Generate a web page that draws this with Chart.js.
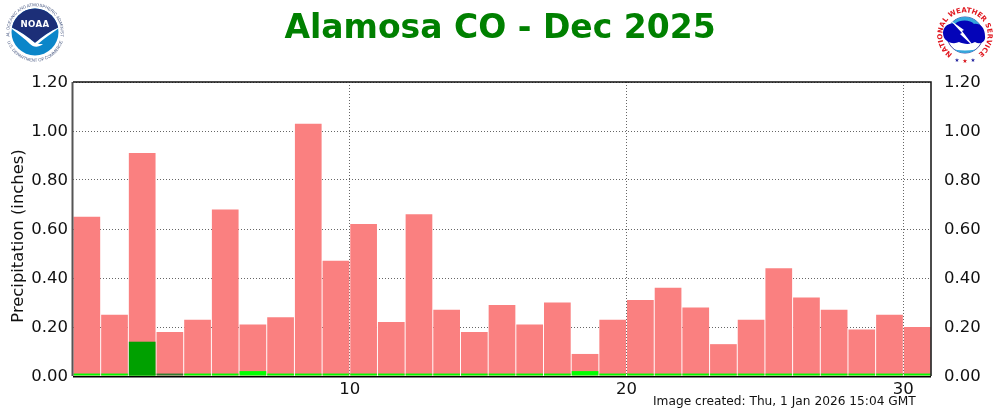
<!DOCTYPE html>
<html>
<head>
<meta charset="utf-8">
<title>Alamosa CO - Dec 2025</title>
<script src="https://cdn.jsdelivr.net/npm/chart.js@4"></script>
<style>
  html, body { margin: 0; padding: 0; background: #fff; }
  #wrap { position: relative; width: 1000px; height: 412px; overflow: hidden; }
  #created { position: absolute; left: 653px; top: 394px; font: 12.2px "DejaVu Sans", sans-serif; color: #111; white-space: nowrap; }
  .logo { position: absolute; top: 0; }
</style>
</head>
<body>
<div id="wrap">
  <canvas id="chart" width="1000" height="412"></canvas>
  <div id="created">Image created: Thu, 1 Jan 2026 15:04 GMT</div>

  <svg class="logo" style="left:0" width="70" height="70" viewBox="0 0 70 70">
    <defs>
      <path id="noaaTop" d="M 9.5 36 A 25.8 25.8 0 1 1 60.5 36"/>
      <path id="noaaBot" d="M 6.5 38 A 29 29 0 0 0 63.5 38"/>
      <clipPath id="noaaClip"><circle cx="35" cy="32" r="23.5"/></clipPath>
    </defs>
    <circle cx="35" cy="32" r="23.5" fill="#0b86c9"/>
    <g clip-path="url(#noaaClip)">
      <path d="M8 5 H62 V26 C52 30 43 36 35 43 C27 36 18 30 8 26 Z" fill="#1c2f78"/>
      <path d="M8 26 C18 30 27 36 35 43 C43 36 52 30 62 26 C52 33 44 39 38 44 L43 44 C38 48 33 47 30 44 C24 38 16 32 8 26 Z" fill="#fff"/>
    </g>
    <text x="35" y="27" text-anchor="middle" font-family="DejaVu Sans" font-weight="bold" font-size="8.6" letter-spacing="0.4" fill="#fff">NOAA</text>
    <text font-family="Liberation Sans" font-size="4.3" fill="#44557f"><textPath href="#noaaTop" startOffset="50%" text-anchor="middle">NATIONAL OCEANIC AND ATMOSPHERIC ADMINISTRATION</textPath></text>
    <text font-family="Liberation Sans" font-size="4.3" fill="#44557f"><textPath href="#noaaBot" startOffset="50%" text-anchor="middle">U.S. DEPARTMENT OF COMMERCE</textPath></text>
  </svg>

  <svg class="logo" style="left:930px" width="70" height="70" viewBox="0 0 70 70">
    <defs>
      <path id="nwsRing" d="M 22.5 54 A 22.7 22.7 0 1 1 47.5 54"/>
      <clipPath id="nwsClip"><circle cx="35" cy="35" r="18"/></clipPath>
    </defs>
    <circle cx="35" cy="35" r="18" fill="#fff" stroke="#1a1a8a" stroke-width="0.8"/>
    <g clip-path="url(#nwsClip)">
      <rect x="14" y="15" width="42" height="14" fill="#35a7dc"/>
      <path d="M14 46 C24 52 46 52 56 46 V56 H14 Z" fill="#35a7dc"/>
    </g>
    <path d="M13 33 C13 26 20 22 25 24 C30 19 41 20 44 24 C50 23 55 28 55 36 C56 42 50 45 45 42 C40 45 33 44 29 42 C23 45 13 42 13 33 Z" fill="#0404b8"/>
    <path d="M20 20 L34 30 L32 31 L45 48 L30 34 L32 33 Z" fill="#fff"/>
    <text font-family="DejaVu Sans" font-weight="bold" font-size="7" fill="#e01820" textLength="115"><textPath href="#nwsRing">NATIONAL WEATHER SERVICE</textPath></text>
    <text x="27" y="62" text-anchor="middle" font-family="DejaVu Sans" font-size="5.5" fill="#1a1a9a">★</text>
    <text x="35" y="62.5" text-anchor="middle" font-family="DejaVu Sans" font-size="6" fill="#d8141c">★</text>
    <text x="43" y="62" text-anchor="middle" font-family="DejaVu Sans" font-size="5.5" fill="#1a1a9a">★</text>
  </svg>
</div>

<script>
const days = [1,2,3,4,5,6,7,8,9,10,11,12,13,14,15,16,17,18,19,20,21,22,23,24,25,26,27,28,29,30,31];
const maxPrecip = [0.65,0.25,0.91,0.18,0.23,0.68,0.21,0.24,1.03,0.47,0.62,0.22,0.66,0.27,0.18,0.29,0.21,0.30,0.09,0.23,0.31,0.36,0.28,0.13,0.23,0.44,0.32,0.27,0.19,0.25,0.20];
const normalPrecip = [0.01,0.01,0.01,0,0.01,0.01,0.02,0.01,0.01,0.01,0.01,0.01,0.01,0.01,0.01,0.01,0.01,0.01,0.02,0.01,0.01,0.01,0.01,0.01,0.01,0.01,0.01,0.01,0.01,0.01,0.01];
const observed = [0,0,0.14,0,0,0,0,0,0,0,0,0,0,0,0,0,0,0,0,0,0,0,0,0,0,0,0,0,0,0,0];
const trace = [0,0,0,0.01,0,0,0,0,0,0,0,0,0,0,0,0,0,0,0,0,0,0,0,0,0,0,0,0,0,0,0];
const yTicks = [0,0.2,0.4,0.6,0.8,1.0,1.2];
const xTicks = [10,20,30];
const yLabel = "Precipitation (inches)";

function toPoints(values) {
  return days.map((d, i) => ({ x: d - 0.5, y: values[i] }));
}

function barSet(values, color, order) {
  return {
    data: toPoints(values),
    backgroundColor: color,
    order: order,
    grouped: false,
    barPercentage: 0.965,
    categoryPercentage: 1
  };
}

const frame = {
  id: "frame",
  afterDatasetsDraw(chart) {
    const a = chart.chartArea;
    const c = chart.ctx;
    c.save();
    c.lineWidth = 1.5;
    c.strokeStyle = "#111";
    c.beginPath();
    c.moveTo(a.left, a.top);
    c.lineTo(a.right, a.top);
    c.lineTo(a.right, a.bottom);
    c.stroke();
    c.strokeStyle = "#555";
    c.lineWidth = 2;
    c.beginPath();
    c.moveTo(a.left - 0.5, a.top);
    c.lineTo(a.left - 0.5, a.bottom);
    c.stroke();
    c.strokeStyle = "#000";
    c.lineWidth = 1.5;
    c.beginPath();
    c.moveTo(a.left, a.bottom + 0.75);
    c.lineTo(a.right, a.bottom + 0.75);
    c.stroke();

    // axis label sits lower than the plot centre in the source, so it is placed by hand
    c.translate(23, 236);
    c.rotate(-Math.PI / 2);
    c.fillStyle = "#111";
    c.font = '16.4px "DejaVu Sans"';
    c.textAlign = "center";
    c.fillText(yLabel, 0, 0);
    c.restore();
  }
};

const tickFont = { family: "DejaVu Sans", size: 16.5 };
const grid = { color: "#666", lineWidth: 1, drawTicks: false, offset: false };
const border = { display: false, dash: [1, 2] };

function yScale(pos, width) {
  return {
    position: pos,
    min: 0,
    max: 1.2,
    afterFit(s) { s.width = width; },
    afterBuildTicks(s) { s.ticks = yTicks.map(v => ({ value: v })); },
    grid: pos === "left" ? grid : { display: false },
    border: border,
    ticks: { color: "#111", font: tickFont, padding: 5, labelOffset: 1, callback: v => v.toFixed(2) }
  };
}

new Chart(document.getElementById("chart"), {
  type: "bar",
  data: {
    datasets: [
      barSet(maxPrecip, "#fa8080", 3),
      barSet(normalPrecip, "#00ff00", 2),
      barSet(observed, "#00a000", 1),
      barSet(trace, "#2f7d2f", 1)
    ]
  },
  options: {
    responsive: false,
    animation: false,
    layout: { padding: 0 },
    plugins: {
      legend: { display: false },
      tooltip: { enabled: false },
      title: {
        display: true,
        text: "Alamosa CO - Dec 2025",
        color: "#008000",
        font: { family: "DejaVu Sans", size: 33, weight: "bold" },
        padding: { top: 10, bottom: 32.4 }
      }
    },
    scales: {
      x: {
        type: "linear",
        min: 0,
        max: 31,
        offset: false,
        afterFit(s) { s.height = 36; },
        afterBuildTicks(s) { s.ticks = xTicks.map(v => ({ value: v })); },
        grid: grid,
        border: border,
        ticks: { color: "#111", font: tickFont, padding: 4, maxRotation: 0 }
      },
      y: yScale("left", 73),
      y2: yScale("right", 69)
    }
  },
  plugins: [frame]
});
</script>
</body>
</html>
